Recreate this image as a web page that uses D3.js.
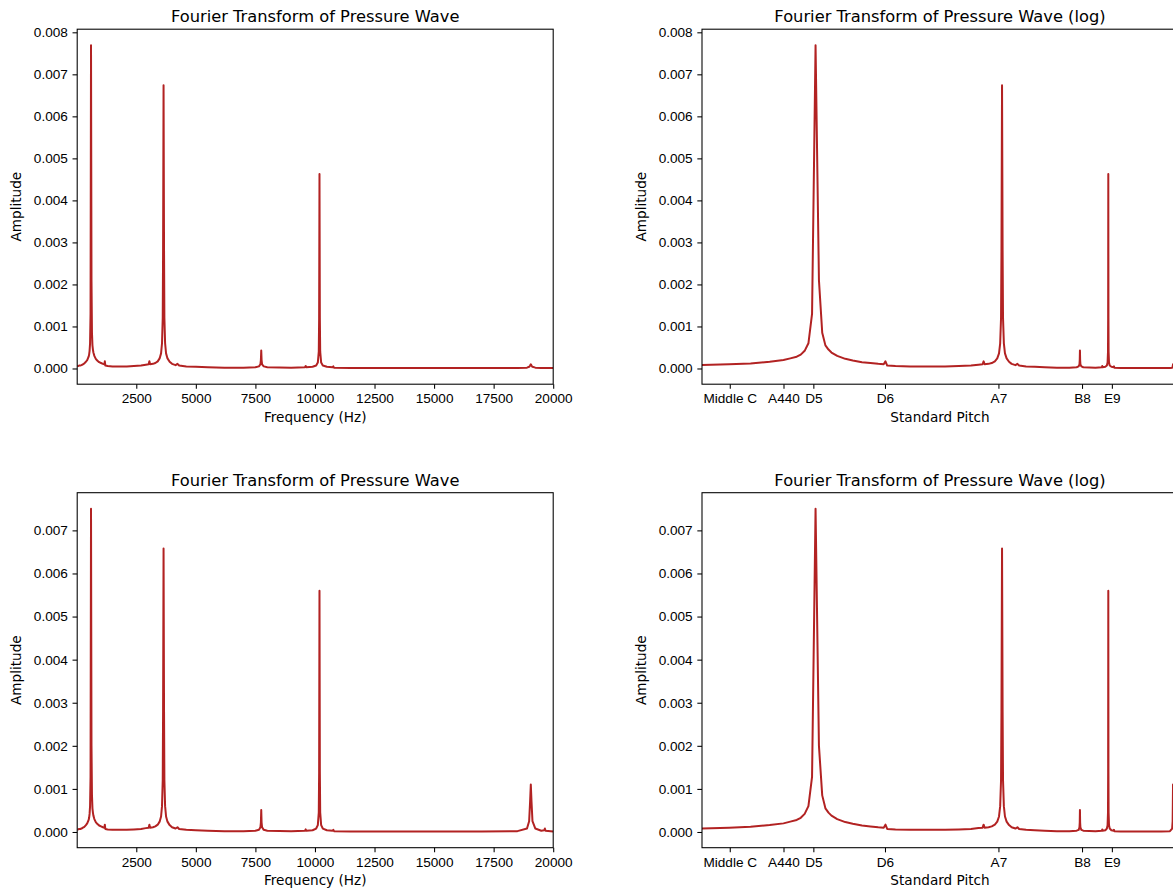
<!DOCTYPE html>
<html>
<head>
<meta charset="utf-8">
<title>Fourier Transform of Pressure Wave</title>
<script src="https://cdn.jsdelivr.net/npm/d3@7"></script>
<style>
  body { margin: 0; background: #fff; overflow: hidden; }
  svg { display: block; font-family: "DejaVu Sans", sans-serif; }
  .tick text { font-size: 13.6px; fill: #000; }
  .tick line { stroke: #000; stroke-width: 1.07; }
  .title { font-size: 16.3px; }
  .label { font-size: 13.6px; }
</style>
</head>
<body>
<svg id="fig" width="1173" height="892"></svg>
<script>
// spectrum (Hz / amplitude), same bins for both rows
var FREQ = [
  20, 60, 100, 150, 200, 260, 320, 385, 440, 470, 500, 520, 540, 560, 580,
  600, 620, 640, 660, 680, 700, 740, 800, 860, 940, 1020, 1100, 1160, 1180, 1200,
  1300, 1500, 1800, 2100, 2400, 2700, 2900, 3020, 3050, 3080, 3200, 3300, 3400, 3480, 3540,
  3580, 3610, 3625, 3645, 3665, 3680, 3710, 3750, 3810, 3900, 4000, 4150, 4230, 4300, 4600,
  5000, 5500, 6200, 7000, 7500, 7650, 7710, 7730, 7745, 7760, 7780, 7850, 8000, 9000, 9580,
  9610, 9640, 9900, 10050, 10120, 10160, 10175, 10190, 10205, 10220, 10260, 10330, 10500, 10740, 10770,
  10800, 11500, 13000, 15000, 17000, 18500, 18900, 18990, 19030, 19060, 19090, 19130, 19250, 19500, 19620,
  19650, 19680, 20000
];

var AMP_TOP = [
  0.00006, 0.00006, 0.00007, 0.00007, 0.00008, 0.0001, 0.00012, 0.00016, 0.0002, 0.00024, 0.00028, 0.00033, 0.00042, 0.0006, 0.0013,
  0.00769, 0.0021, 0.00085, 0.00055, 0.00045, 0.00038, 0.0003, 0.00023, 0.00019, 0.00015, 0.00013, 0.00011, 0.0001, 0.00017, 0.00007,
  0.00006, 0.00005, 0.00005, 0.00005, 0.00006, 0.00007, 0.00009, 0.0001, 0.00017, 0.0001, 0.00011, 0.00013, 0.00017, 0.00024, 0.00036,
  0.0006, 0.0012, 0.0028, 0.00674, 0.0028, 0.0012, 0.0006, 0.00036, 0.00024, 0.00016, 0.00011, 0.00008, 0.00011, 0.00007, 0.00005,
  0.00004, 0.00003, 0.00002, 0.00002, 0.00003, 0.00005, 0.0001, 0.0002, 0.00043, 0.0002, 0.0001, 0.00005, 0.00003, 0.00002, 0.00003,
  0.00006, 0.00003, 0.00004, 0.00007, 0.00014, 0.0004, 0.0012, 0.00463, 0.0012, 0.0004, 0.00014, 0.00007, 0.00004, 0.00003, 0.00005,
  0.00002, 0.00001, 0.00001, 0.00001, 0.00001, 0.00001, 0.00002, 0.00004, 0.00007, 0.0001, 0.00007, 0.00004, 0.00002, 0.00001, 0.00001,
  0.00001, 0.00001, 0.00001
];

var AMP_BOTTOM = [
  0.00006, 0.00006, 0.00007, 0.00007, 0.00008, 0.0001, 0.00012, 0.00016, 0.0002, 0.00024, 0.00028, 0.00033, 0.00042, 0.0006, 0.00128,
  0.0075, 0.002, 0.00085, 0.00055, 0.00045, 0.00038, 0.0003, 0.00023, 0.00019, 0.00015, 0.00013, 0.00011, 0.0001, 0.00017, 0.00007,
  0.00006, 0.00005, 0.00005, 0.00005, 0.00006, 0.00007, 0.00009, 0.0001, 0.00017, 0.0001, 0.00011, 0.00013, 0.00017, 0.00024, 0.00036,
  0.0006, 0.0012, 0.0028, 0.00658, 0.0028, 0.0012, 0.0006, 0.00036, 0.00024, 0.00016, 0.00011, 0.00008, 0.00011, 0.00007, 0.00005,
  0.00004, 0.00003, 0.00002, 0.00002, 0.00003, 0.00005, 0.00011, 0.00022, 0.00051, 0.00022, 0.00011, 0.00005, 0.00003, 0.00002, 0.00003,
  0.00006, 0.00003, 0.00004, 0.00008, 0.00016, 0.00045, 0.0014, 0.0056, 0.0014, 0.00045, 0.00016, 0.00008, 0.00004, 0.00003, 0.00005,
  0.00002, 0.00001, 0.00001, 0.00001, 0.00001, 0.00002, 0.00008, 0.00025, 0.0007, 0.0011, 0.0007, 0.00025, 0.00008, 0.00003, 0.00004,
  0.00008, 0.00003, 0.00001
];

var LIN_TICKS = [2500, 5000, 7500, 10000, 12500, 15000, 17500, 20000];
var PITCH_NAMES = ['Middle C', 'A440', 'D5', 'D6', 'A7', 'B8', 'E9'];
var PITCH_FREQS = [261.63, 440, 587.33, 1174.66, 3520, 7902.13, 10548.08];

var AX_W = 476, AX_H = 355;
var COL_X = [77.2, 702];
var ROW_Y = [29.2, 492.7];
var TICK = 4.67;

var svg = d3.select('#fig');

var drawPanel = function (id, left, top, amp, isLog) {
  var pts = FREQ.map(function (f, i) { return {f: f, a: amp[i]}; });

  var x = isLog
    ? d3.scaleLog().domain([200, 20000]).range([0, AX_W])
    : d3.scaleLinear().domain([20, 20000]).range([0, AX_W]);

  // matplotlib style 5% margins on y
  var ext = d3.extent(amp);
  var pad = (ext[1] - ext[0]) * 0.05;
  var y = d3.scaleLinear().domain([ext[0] - pad, ext[1] + pad]).range([AX_H, 0]);
  var yTicks = d3.range(0, ext[1] + pad, 0.001);

  var g = svg.append('g').attr('transform', 'translate(' + left + ',' + top + ')');

  svg.append('clipPath').attr('id', 'clip-' + id)
    .append('rect').attr('width', AX_W).attr('height', AX_H);

  g.append('path')
    .datum(pts)
    .attr('clip-path', 'url(#clip-' + id + ')')
    .attr('fill', 'none')
    .attr('stroke', '#b22222')
    .attr('stroke-width', 2)
    .attr('stroke-linejoin', 'round')
    .attr('d', d3.line().x(function (d) { return x(d.f); }).y(function (d) { return y(d.a); }));

  var xAxis = d3.axisBottom(x).tickSizeInner(TICK).tickSizeOuter(0).tickPadding(TICK);
  if (isLog) {
    xAxis.tickValues(PITCH_FREQS).tickFormat(function (d, i) { return PITCH_NAMES[i]; });
  } else {
    xAxis.tickValues(LIN_TICKS).tickFormat(d3.format('d'));
  }
  var gx = g.append('g').attr('transform', 'translate(0,' + AX_H + ')').call(xAxis);
  gx.select('.domain').remove();

  var gy = g.append('g').call(d3.axisLeft(y).tickValues(yTicks)
    .tickFormat(d3.format('.3f')).tickSizeInner(TICK).tickSizeOuter(0).tickPadding(TICK));
  gy.select('.domain').remove();
  g.selectAll('.tick text').attr('font-family', null).attr('font-size', null);

  // spines
  g.append('rect')
    .attr('width', AX_W).attr('height', AX_H)
    .attr('fill', 'none').attr('stroke', '#000').attr('stroke-width', 1.07);

  g.append('text').attr('class', 'title')
    .attr('x', AX_W / 2).attr('y', -7)
    .attr('text-anchor', 'middle')
    .text(isLog ? 'Fourier Transform of Pressure Wave (log)' : 'Fourier Transform of Pressure Wave');

  g.append('text').attr('class', 'label')
    .attr('x', AX_W / 2).attr('y', AX_H + 37.5)
    .attr('text-anchor', 'middle')
    .text(isLog ? 'Standard Pitch' : 'Frequency (Hz)');

  g.append('text').attr('class', 'label')
    .attr('transform', 'translate(-56,' + (AX_H / 2) + ') rotate(-90)')
    .attr('text-anchor', 'middle')
    .text('Amplitude');
};

drawPanel('tl', COL_X[0], ROW_Y[0], AMP_TOP, false);
drawPanel('tr', COL_X[1], ROW_Y[0], AMP_TOP, true);
drawPanel('bl', COL_X[0], ROW_Y[1], AMP_BOTTOM, false);
drawPanel('br', COL_X[1], ROW_Y[1], AMP_BOTTOM, true);
</script>
</body>
</html>
